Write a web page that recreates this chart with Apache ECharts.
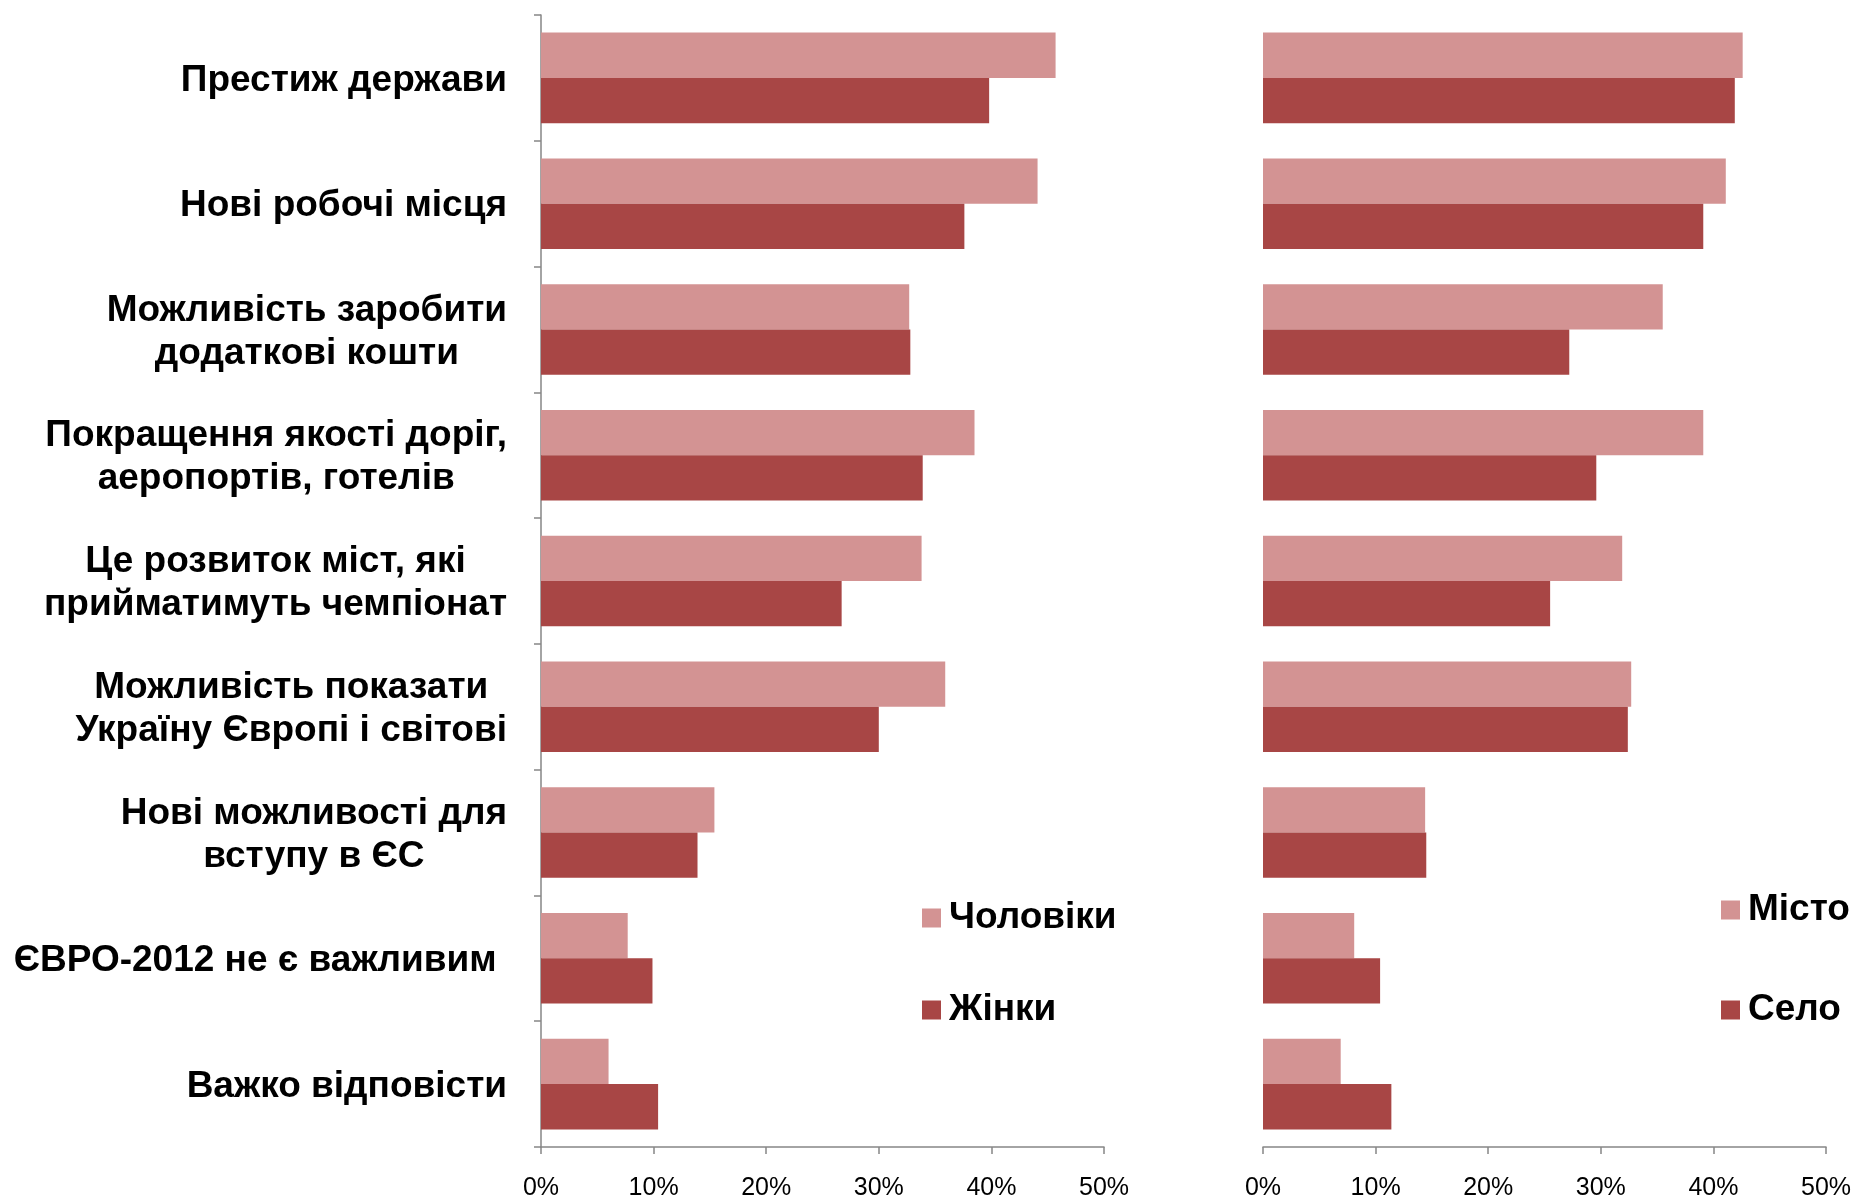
<!DOCTYPE html>
<html>
<head>
<meta charset="utf-8">
<script src="https://cdn.jsdelivr.net/npm/echarts@6/dist/echarts.min.js"></script>
<style>
html,body{margin:0;padding:0;background:#fff;}
#chart{width:1858px;height:1200px;}
</style>
</head>
<body>
<div id="chart"></div>
<script>
const categories = [
  'Престиж держави',
  'Нові робочі місця',
  'Можливість заробити\nдодаткові кошти',
  'Покращення якості доріг,\nаеропортів, готелів',
  'Це розвиток міст, які\nприйматимуть чемпіонат',
  'Можливість показати\nУкраїну Європі і світові',
  'Нові можливості для\nвступу в ЄС',
  'ЄВРО-2012 не є важливим ',
  'Важко відповісти'
];
const men   = [45.7, 44.1, 32.7, 38.5, 33.8, 35.9, 15.4, 7.7, 6.0];
const women = [39.8, 37.6, 32.8, 33.9, 26.7, 30.0, 13.9, 9.9, 10.4];
const city    = [42.6, 41.1, 35.5, 39.1, 31.9, 32.7, 14.4, 8.1, 6.9];
const village = [41.9, 39.1, 27.2, 29.6, 25.5, 32.4, 14.5, 10.4, 11.4];
const xTicks = [0, 10, 20, 30, 40, 50];

const LIGHT = '#D39393';
const DARK = '#A84645';
const AXIS = '#868686';
const FONT = '"Liberation Sans", Arial, sans-serif';

const chart = echarts.init(document.getElementById('chart'));

function xAxisDef(gridIndex) {
  return {
    type: 'value', gridIndex: gridIndex,
    min: xTicks[0], max: xTicks[xTicks.length - 1], interval: xTicks[1] - xTicks[0],
    axisLine: { show: true, lineStyle: { color: AXIS, width: 1.5 } },
    axisTick: { show: true, length: 7, lineStyle: { color: AXIS, width: 1.5 } },
    splitLine: { show: false },
    axisLabel: { formatter: '{value}%', fontSize: 25, color: '#000', fontFamily: FONT, margin: 29 }
  };
}

const legendText = { fontSize: 37, fontWeight: 'bold', color: '#000', fontFamily: FONT, lineHeight: 40, padding: [0, 0, 0, 3] };

const option = {
  backgroundColor: '#fff',
  animation: false,
  grid: [
    { left: 541, top: 15, width: 563, height: 1132, outerBoundsMode: 'none' },
    { left: 1263, top: 15, width: 563, height: 1132, outerBoundsMode: 'none' }
  ],
  xAxis: [xAxisDef(0), xAxisDef(1)],
  yAxis: [
    {
      type: 'category', gridIndex: 0, data: categories, inverse: true,
      axisLine: { show: true, lineStyle: { color: AXIS, width: 1.5 } },
      axisTick: { show: true, length: 7, lineStyle: { color: AXIS, width: 1.5 } },
      axisLabel: {
        margin: 34,
        padding: [5, 0, 0, 0],
        formatter: function (v) { return v.split('\n').map(function (l) { return '{c|' + l + '}'; }).join('\n'); },
        rich: { c: { align: 'center', fontSize: 37, fontWeight: 'bold', lineHeight: 43, fontFamily: FONT, color: '#000' } }
      }
    },
    {
      type: 'category', gridIndex: 1, data: categories, inverse: true, show: false
    }
  ],
  legend: [
    {
      orient: 'vertical', left: 917, top: 893, itemGap: 52,
      itemWidth: 19, itemHeight: 19, icon: 'rect',
      data: ['Чоловіки', 'Жінки'],
      textStyle: legendText
    },
    {
      orient: 'vertical', left: 1716, top: 885, itemGap: 60,
      itemWidth: 19, itemHeight: 19, icon: 'rect',
      data: ['Місто', 'Село'],
      textStyle: legendText
    }
  ],
  series: [
    { name: 'Чоловіки', type: 'bar', xAxisIndex: 0, yAxisIndex: 0, data: men, itemStyle: { color: LIGHT }, barGap: '0%', barCategoryGap: '28%' },
    { name: 'Жінки', type: 'bar', xAxisIndex: 0, yAxisIndex: 0, data: women, itemStyle: { color: DARK }, barGap: '0%', barCategoryGap: '28%' },
    { name: 'Місто', type: 'bar', xAxisIndex: 1, yAxisIndex: 1, data: city, itemStyle: { color: LIGHT }, barGap: '0%', barCategoryGap: '28%' },
    { name: 'Село', type: 'bar', xAxisIndex: 1, yAxisIndex: 1, data: village, itemStyle: { color: DARK }, barGap: '0%', barCategoryGap: '28%' }
  ]
};
chart.setOption(option);
</script>
</body>
</html>
